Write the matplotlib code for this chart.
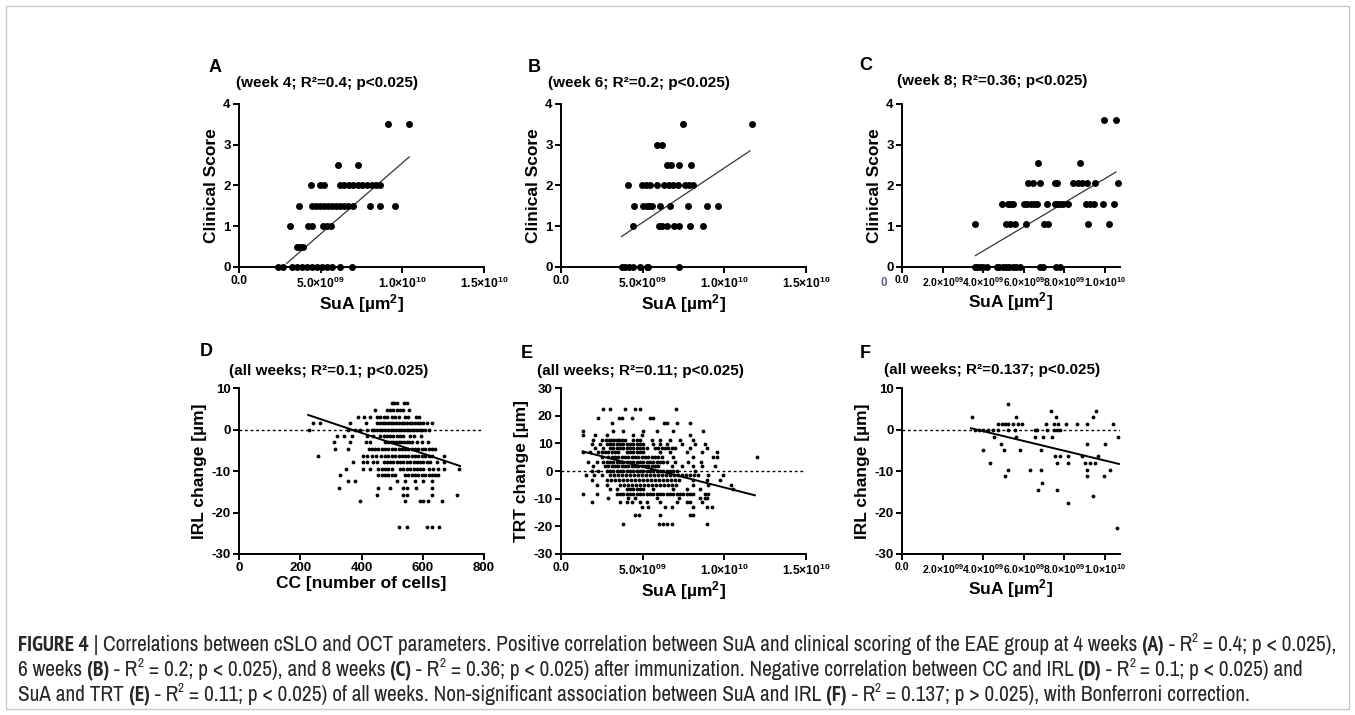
import matplotlib
matplotlib.use("Agg")
import matplotlib.pyplot as plt
import numpy as np
from matplotlib import font_manager
from matplotlib.font_manager import FontProperties
from matplotlib.patches import Rectangle

# ---------------- data (x of SuA panels in units of 1e9 µm²) ----------------
a_levels = [3.5, 2.5, 2.0, 1.5, 1.0, 0.5, 0.0]
a_x = [
    [9.12, 10.4],
    [6.06, 7.28],
    [4.41, 4.96, 5.22, 6.18, 6.44, 6.73, 6.99, 7.30, 7.55, 7.81, 8.12, 8.40, 8.63],
    [3.69, 4.45, 4.70, 4.95, 5.20, 5.45, 5.70, 5.95, 6.20, 6.45, 6.69, 7.00, 8.02, 8.63, 9.55],
    [3.10, 4.24, 4.49, 5.16, 5.37, 5.63],
    [3.53, 3.72, 3.94],
    [2.41, 2.71, 3.22, 3.53, 3.84, 4.14, 4.45, 4.76, 5.06, 5.37, 5.67, 6.18, 6.93],
]
a_fit_x = [2.92, 10.42]
a_fit_y = [0.09, 2.70]

b_levels = [3.5, 3.0, 2.5, 2.0, 1.5, 1.0, 0.0]
b_x = [
    [7.49, 11.67],
    [5.90, 6.20],
    [6.47, 6.73, 7.24, 7.96],
    [4.08, 4.94, 5.18, 5.45, 5.86, 6.32, 6.63, 6.87, 7.14, 7.59, 7.85, 8.10],
    [4.47, 5.04, 5.25, 5.39, 5.59, 6.06, 6.67, 7.75, 8.92, 9.63],
    [4.42, 5.99, 6.19, 6.47, 6.93, 7.24, 7.90, 8.71],
    [3.71, 3.92, 4.18, 4.42, 4.83, 5.24, 5.34, 7.24],
]
b_fit_x = [3.71, 11.57]
b_fit_y = [0.75, 2.85]

c_levels = [3.6, 2.55, 2.05, 1.55, 1.05, 0.0]
c_x = [
    [9.95, 10.55],
    [6.72, 8.80],
    [6.22, 6.47, 6.80, 7.54, 7.65, 8.44, 8.69, 8.90, 9.10, 9.51, 10.65],
    [4.91, 5.24, 5.35, 5.48, 6.01, 6.17, 6.34, 6.50, 6.67, 7.16, 7.54, 7.65, 7.78,
     7.95, 8.19, 9.06, 9.26, 9.47, 9.89, 10.46],
    [3.62, 5.12, 5.35, 5.57, 6.11, 7.00, 7.21, 9.18, 10.20],
    [3.58, 3.71, 3.84, 4.00, 4.17, 4.66, 4.79, 4.96, 5.12, 5.29, 5.45, 5.62, 5.81,
     6.80, 6.96, 7.59, 7.78],
]
c_fit_x = [3.62, 10.55]
c_fit_y = [0.28, 2.33]

d_levels = [6.3, 4.7, 3.1, 1.6, 0.0, -1.6, -3.1, -4.7, -6.3, -7.8, -9.4, -11.0,
            -12.5, -14.1, -15.7, -17.3, -23.5]
d_x = [
    [499, 507, 515, 540, 550],
    [445, 483, 493, 504, 515, 526, 537, 556],
    [390, 408, 428, 450, 461, 472, 483, 499, 510, 521, 542, 553, 578, 589],
    [241, 265, 361, 415, 452, 461, 470, 478, 487, 496, 504, 513, 522, 531, 539, 548,
     557, 565, 574, 583, 592, 600, 613, 630],
    [230, 357, 379, 395, 419, 434, 442, 451, 460, 468, 477, 486, 495, 503, 512, 521,
     529, 538, 547, 556, 564, 573, 582, 590, 599, 608, 620],
    [319, 343, 368, 417, 439, 461, 472, 483, 493, 504, 515, 526, 537, 557, 570, 594],
    [310, 363, 415, 428, 477, 486, 495, 503, 512, 521, 529, 538, 547, 556, 564, 581,
     597, 616],
    [314, 357, 423, 434, 444, 455, 466, 477, 488, 499, 510, 521, 532, 542, 553, 564,
     575, 586, 597, 608, 619, 630, 641],
    [259, 406, 419, 434, 448, 463, 477, 488, 499, 510, 521, 532, 542, 553, 564, 575,
     586, 597, 608, 619, 630, 668],
    [373, 406, 419, 439, 452, 472, 483, 493, 504, 515, 526, 537, 548, 559, 570, 581,
     592, 602, 613, 624, 646, 668],
    [350, 406, 428, 455, 466, 477, 488, 499, 526, 537, 548, 559, 570, 581, 592, 602,
     619, 635, 651, 668, 717],
    [330, 455, 466, 477, 488, 499, 510, 542, 553, 564, 575, 586, 597, 608, 619, 630,
     641, 651],
    [357, 379, 515, 542, 575, 602, 630],
    [327, 455, 493, 537, 548, 578, 630],
    [450, 537, 548, 630, 711],
    [395, 542, 591, 602, 616, 662],
    [521, 548, 613, 630, 654],
]
d_fit_x = [226, 722]
d_fit_y = [3.5, -8.8]

e_levels = [22.3, 19.1, 17.4, 14.6, 13.0, 11.3, 9.8, 8.2, 6.7, 5.1, 3.4, 1.8, 0.0,
            -1.6, -3.3, -4.9, -6.5, -8.2, -9.8, -11.3, -13.0, -15.9, -19.1]
e_x = [
    [2.59, 3.00, 3.92, 4.53, 4.84, 7.04],
    [2.28, 3.57, 3.71, 4.32, 5.45, 5.61],
    [3.10, 6.30, 6.51, 7.08, 7.89],
    [1.37, 3.16, 3.81, 5.04, 5.85, 6.87, 8.71],
    [1.37, 2.08, 2.79, 4.39, 4.94, 7.89],
    [1.98, 2.49, 2.75, 2.92, 3.08, 3.24, 3.41, 3.57, 3.73, 3.90, 4.43, 4.63, 4.83,
     5.55, 6.06, 6.67, 7.28, 8.10],
    [1.88, 2.39, 2.79, 3.00, 3.20, 3.41, 3.61, 3.81, 4.02, 4.22, 4.43, 4.63, 4.83,
     5.04, 5.65, 6.06, 6.47, 7.38, 8.20, 8.81],
    [2.08, 2.59, 3.00, 3.20, 3.41, 3.61, 3.81, 4.02, 4.22, 4.43, 4.63, 4.83, 5.04,
     5.24, 5.75, 5.96, 6.16, 6.36, 6.57, 6.77, 6.98, 7.89, 8.91],
    [1.37, 1.77, 2.28, 2.49, 2.69, 2.90, 3.10, 3.30, 3.51, 4.02, 4.22, 4.43, 4.63,
     4.83, 5.04, 6.06, 6.67, 7.69, 8.61, 9.53],
    [2.49, 2.90, 3.10, 3.30, 3.51, 3.71, 3.92, 4.12, 4.32, 4.53, 4.73, 4.94, 5.14,
     5.34, 5.55, 5.75, 5.96, 6.16, 6.87, 8.10, 9.32, 9.57, 11.97],
    [1.67, 2.18, 2.59, 2.79, 3.00, 3.20, 3.41, 3.61, 3.81, 4.02, 4.22, 4.43, 4.63,
     4.83, 5.04, 5.24, 5.45, 5.65, 5.85, 6.06, 6.26, 6.47, 6.98, 7.79, 8.55],
    [1.98, 2.69, 2.90, 3.10, 3.30, 3.51, 3.71, 3.92, 4.12, 4.32, 4.53, 4.73, 4.94,
     5.14, 5.34, 5.55, 5.75, 5.96, 6.77, 7.38, 8.10, 8.61, 9.42],
    [1.88, 2.28, 2.79, 3.00, 3.20, 3.41, 3.61, 3.81, 4.02, 4.22, 4.43, 4.63, 4.83,
     5.04, 5.24, 5.45, 5.65, 5.85, 6.06, 6.26, 6.47, 6.67, 6.87, 7.08, 8.20],
    [1.53, 2.02, 2.49, 3.00, 3.24, 3.49, 3.73, 3.98, 4.22, 4.47, 4.71, 4.96, 5.20,
     5.45, 5.69, 5.94, 6.18, 6.43, 6.67, 6.92, 7.16, 7.41, 7.65, 7.90, 8.14, 8.39,
     9.02, 9.93],
    [1.88, 2.79, 3.04, 3.28, 3.53, 3.77, 4.02, 4.26, 4.51, 4.75, 5.00, 5.24, 5.49,
     5.73, 5.98, 6.22, 6.47, 6.71, 6.96, 7.20, 8.10, 8.96, 9.73],
    [2.22, 2.79, 3.61, 3.86, 4.10, 4.35, 4.59, 4.84, 5.08, 5.33, 5.57, 5.82, 6.06,
     6.31, 6.55, 6.80, 7.04, 8.10, 9.02, 10.38],
    [3.00, 3.41, 4.02, 4.22, 4.43, 4.63, 4.83, 5.04, 5.65, 6.87, 7.69, 8.51, 10.55],
    [1.33, 2.18, 3.41, 3.61, 3.81, 4.02, 4.22, 4.43, 4.63, 4.83, 5.04, 5.24, 5.45,
     5.65, 5.85, 6.06, 6.26, 6.47, 6.67, 6.87, 7.08, 7.28, 7.49, 7.69, 7.89, 8.10,
     8.81, 9.02],
    [2.90, 4.10, 4.50, 5.90, 7.20, 8.51, 8.81, 8.91],
    [1.88, 3.61, 4.02, 4.32, 4.83, 5.24, 6.06, 7.08, 7.69, 7.89, 8.61],
    [4.94, 5.34, 6.36, 6.77, 8.10, 8.91, 9.22],
    [4.53, 4.79, 6.06, 7.89, 8.10],
    [3.81, 6.02, 6.26, 6.51, 6.79, 8.91],
]
e_fit_x = [1.33, 11.87]
e_fit_y = [7.07, -8.78]

f_levels = [6.1, 4.5, 2.9, 1.4, 0.0, -1.8, -3.4, -4.9, -6.5, -8.0, -9.8, -11.3,
            -13.0, -14.6, -16.0, -17.8, -23.7]
f_x = [
    [5.22],
    [7.37, 9.55],
    [3.45, 5.62, 7.59, 9.43],
    [4.75, 4.91, 5.07, 5.24, 5.48, 5.73, 5.90, 7.09, 7.49, 7.70, 8.08, 8.61, 9.10, 10.41],
    [3.60, 3.80, 4.00, 4.25, 4.50, 4.75, 5.24, 5.57, 6.55, 6.67, 7.13, 7.49, 7.62, 7.79],
    [4.55, 5.62, 6.55, 6.93, 7.42, 10.66],
    [4.86, 9.10, 10.00],
    [4.00, 5.02, 5.81, 6.83],
    [7.54, 7.79, 8.19, 8.90, 9.67],
    [4.33, 7.66, 8.19, 9.00, 9.25, 9.50],
    [5.24, 6.31, 6.83, 9.10, 10.28],
    [5.07, 9.10, 9.95],
    [6.88],
    [6.72, 7.65],
    [9.43],
    [8.19],
    [10.58],
]
f_fit_x = [3.4, 10.7]
f_fit_y = [0.3, -8.3]

# axis ticks / labels
abe_xticks = [0, 5e9, 1e10, 1.5e10]
abe_xticklabels = ['0.0', r'$5.0{\times}10^{09}$', r'$1.0{\times}10^{10}$', r'$1.5{\times}10^{10}$']
cf_xticks = [0, 2e9, 4e9, 6e9, 8e9, 1e10]
cf_xticklabels = ['0.0', r'$2.0{\times}10^{09}$', r'$4.0{\times}10^{09}$',
                  r'$6.0{\times}10^{09}$', r'$8.0{\times}10^{09}$', r'$1.0{\times}10^{10}$']
d_xticks = [0, 200, 400, 600, 800]
d_xticklabels = ['0', '200', '400', '600', '800']
score_yticks = [0, 1, 2, 3, 4]
irl_yticks = [-30, -20, -10, 0, 10]
trt_yticks = [-30, -20, -10, 0, 10, 20, 30]

panel_letters = ['A', 'B', 'C', 'D', 'E', 'F']
subtitles = ['(week 4; R²=0.4; p<0.025)', '(week 6; R²=0.2; p<0.025)',
             '(week 8; R²=0.36; p<0.025)', '(all weeks; R²=0.1; p<0.025)',
             '(all weeks; R²=0.11; p<0.025)', '(all weeks; R²=0.137; p<0.025)']

# caption: (text, style) with style r=regular, b=bold, s=superscript
caption_line1 = [("FIGURE 4", 'b'), (" | ", 'r'),
                 ("Correlations between cSLO and OCT parameters. Positive correlation between SuA and clinical scoring of the EAE group at 4 weeks ", 'r'),
                 ("(A)", 'b'), (" - R", 'r'), ("2", 's'), (" = 0.4; p < 0.025),", 'r')]
caption_line2 = [("6 weeks ", 'r'), ("(B)", 'b'), (" - R", 'r'), ("2", 's'),
                 (" = 0.2; p < 0.025), and 8 weeks ", 'r'), ("(C)", 'b'), (" - R", 'r'), ("2", 's'),
                 (" = 0.36; p < 0.025) after immunization. Negative correlation between CC and IRL ", 'r'),
                 ("(D)", 'b'), (" - R", 'r'), ("2", 's'), (" = 0.1; p < 0.025) and", 'r')]
caption_line3 = [("SuA and TRT ", 'r'), ("(E)", 'b'), (" - R", 'r'), ("2", 's'),
                 (" = 0.11; p < 0.025) of all weeks. Non-significant association between SuA and IRL ", 'r'),
                 ("(F)", 'b'), (" - R", 'r'), ("2", 's'), (" = 0.137; p > 0.025), with Bonferroni correction.", 'r')]

# ---------------- fonts ----------------
plt.rcParams['font.family'] = ['Liberation Sans', 'DejaVu Sans']
plt.rcParams['mathtext.default'] = 'regular'


def _w(f):
    w = f.weight
    if isinstance(w, str):
        w = {'light': 300, 'normal': 400, 'regular': 400, 'book': 400, 'medium': 500,
             'bold': 700}.get(w, 400)
    return w


def pick_caption_fonts():
    fl = font_manager.fontManager.ttflist
    order = [lambda f: f.name == 'Liberation Sans Narrow',
             lambda f: 'Narrow' in f.name,
             lambda f: 'Condensed' in f.name,
             lambda f: f.name == 'DejaVu Sans' and 'ondensed' in f.fname]
    for cond in order:
        c = [f for f in fl if cond(f) and f.style == 'normal']
        reg = [f for f in c if _w(f) == 400]
        bld = [f for f in c if _w(f) == 700]
        if reg and bld:
            lite = [f for f in c if f.name == reg[0].name and _w(f) == 300]
            r = lite[0] if lite else reg[0]
            return FontProperties(fname=r.fname), FontProperties(fname=bld[0].fname), True
    return (FontProperties(family='Liberation Sans'),
            FontProperties(family='Liberation Sans', weight='bold'), False)


cap_reg, cap_bold, condensed = pick_caption_fonts()

W, H = 1355, 715
fig = plt.figure(figsize=(W / 100, H / 100), dpi=100)
fig.patch.set_facecolor('white')
rend = fig.canvas.get_renderer()


def add_ax(l, r, t, b):
    return fig.add_axes([l / W, 1 - b / H, (r - l) / W, (b - t) / H])


def expand(levels, xs, scale=1.0):
    X, Y = [], []
    for lv, row in zip(levels, xs):
        for v in row:
            X.append(v * scale)
            Y.append(lv)
    return np.array(X), np.array(Y)


def style(ax, xlim, ylim, xticks, xtl, yticks, xfs):
    ax.set_xlim(xlim)
    ax.set_ylim(ylim)
    for s in ['top', 'right']:
        ax.spines[s].set_visible(False)
    for s in ['left', 'bottom']:
        ax.spines[s].set_linewidth(1.4)
    ax.set_xticks(xticks)
    ax.set_xticklabels(xtl, fontsize=xfs, fontweight='bold')
    ax.set_yticks(yticks)
    ax.set_yticklabels([str(v) for v in yticks], fontsize=9.5, fontweight='bold')
    ax.tick_params(direction='out', length=4, width=1.4, pad=2)
    ax.patch.set_alpha(0)


big = 25
small = 7.5
lab_fs = 12.5

col_l = [239, 561, 902]
col_r = [484, 806, 1120]
row_t = [104, 388]
row_b = [267, 554]
cf_max = 10.75e9

# ---- A, B, C ----
specs_top = [(a_levels, a_x, a_fit_x, a_fit_y, (0, 1.5e10), abe_xticks, abe_xticklabels, 8.7),
             (b_levels, b_x, b_fit_x, b_fit_y, (0, 1.5e10), abe_xticks, abe_xticklabels, 8.7),
             (c_levels, c_x, c_fit_x, c_fit_y, (0, cf_max), cf_xticks, cf_xticklabels, 7.5)]
for i, (lv, xs, fx, fy, xl, xt, xtl, xfs) in enumerate(specs_top):
    ax = add_ax(col_l[i], col_r[i], row_t[0], row_b[0])
    X, Y = expand(lv, xs, 1e9)
    ax.scatter(X, Y, s=big, color='black', linewidths=0, clip_on=False, zorder=3)
    ax.plot(np.array(fx) * 1e9, fy, color='#333333', lw=0.9, zorder=2)
    style(ax, xl, (0, 4), xt, xtl, score_yticks, xfs)
    ax.set_ylabel('Clinical Score', fontsize=lab_fs, fontweight='bold', labelpad=3)
    ax.set_xlabel(r'SuA [µm$^2$]', fontsize=lab_fs, fontweight='bold', labelpad=1)

# ---- D, E, F ----
specs_bot = [(d_levels, d_x, d_fit_x, d_fit_y, (0, 800), d_xticks, d_xticklabels, 9.5,
              irl_yticks, 'IRL change [µm]', 'CC [number of cells]', 1.0),
             (e_levels, e_x, e_fit_x, e_fit_y, (0, 1.5e10), abe_xticks, abe_xticklabels, 8.7,
              trt_yticks, 'TRT change [µm]', r'SuA [µm$^2$]', 1e9),
             (f_levels, f_x, f_fit_x, f_fit_y, (0, cf_max), cf_xticks, cf_xticklabels, 7.5,
              irl_yticks, 'IRL change [µm]', r'SuA [µm$^2$]', 1e9)]
for i, (lv, xs, fx, fy, xl, xt, xtl, xfs, yt, ylab, xlab, sc) in enumerate(specs_bot):
    ax = add_ax(col_l[i], col_r[i], row_t[1], row_b[1])
    X, Y = expand(lv, xs, sc)
    ax.plot(xl, [0, 0], color='black', lw=1.0, ls=(0, (2, 2)), zorder=1)
    ax.scatter(X, Y, s=small, color='black', linewidths=0, clip_on=False, zorder=3)
    ax.plot(np.array(fx) * sc, fy, color='black', lw=1.4, zorder=2)
    style(ax, xl, (yt[0], yt[-1]), xt, xtl, yt, xfs)
    ax.set_ylabel(ylab, fontsize=lab_fs, fontweight='bold', labelpad=3)
    ax.set_xlabel(xlab, fontsize=lab_fs, fontweight='bold', labelpad=1)

# panel letters and subtitles
letter_pos = [(215, 67), (534, 67), (866, 66), (206, 352), (527, 353), (865, 353)]
sub_pos = [(327, 83), (639, 83), (992, 81), (329, 371), (640, 371), (992, 370)]
for L, (lx, ly), s, (sx, sy) in zip(panel_letters, letter_pos, subtitles, sub_pos):
    fig.text(lx / W, 1 - ly / H, L, fontsize=13, fontweight='bold', ha='center', va='center')
    fig.text(sx / W, 1 - sy / H, s, fontsize=11, fontweight='bold', ha='center', va='center')

# stray "0" left of panel C x axis
fig.text(884 / W, 1 - 283 / H, '0', fontsize=8.5, fontweight='bold', color='#6a5a9a',
         ha='center', va='center')


# ---------------- caption ----------------
def seg_width(s, fp, fs):
    p = fp.copy()
    p.set_size(fs)
    w1, _, _ = rend.get_text_width_height_descent('x' + s + 'x', p, ismath=False)
    w0, _, _ = rend.get_text_width_height_descent('xx', p, ismath=False)
    return w1 - w0


def line_width(segs, fs):
    tot = 0
    for s, st in segs:
        fp = cap_bold if st == 'b' else cap_reg
        tot += seg_width(s, fp, fs * (0.62 if st == 's' else 1.0))
    return tot


def draw_line(segs, x0, y, fs, color='#262626'):
    x = x0
    for s, st in segs:
        fp = (cap_bold if st == 'b' else cap_reg).copy()
        f = fs * (0.62 if st == 's' else 1.0)
        fp.set_size(f)
        dy = fs * 100 / 72 * 0.42 if st == 's' else 0
        fig.text(x / W, 1 - (y - dy) / H, s, fontproperties=fp, color=color,
                 ha='left', va='baseline')
        x += seg_width(s, fp, f)


cap_x0 = 18
cap_target = 1337 - cap_x0
fs_cap = 12 * cap_target / line_width(caption_line1, 12)
cap_base = [651, 676, 701]
for segs, yb in zip([caption_line1, caption_line2, caption_line3], cap_base):
    draw_line(segs, cap_x0, yb, fs_cap)

# frame
fig.add_artist(Rectangle((6 / W, 6 / H), (W - 12) / W, (H - 12) / H, transform=fig.transFigure,
                         fill=False, edgecolor='#c8c8c8', lw=1.0))

fig.savefig('out.png', dpi=100)
